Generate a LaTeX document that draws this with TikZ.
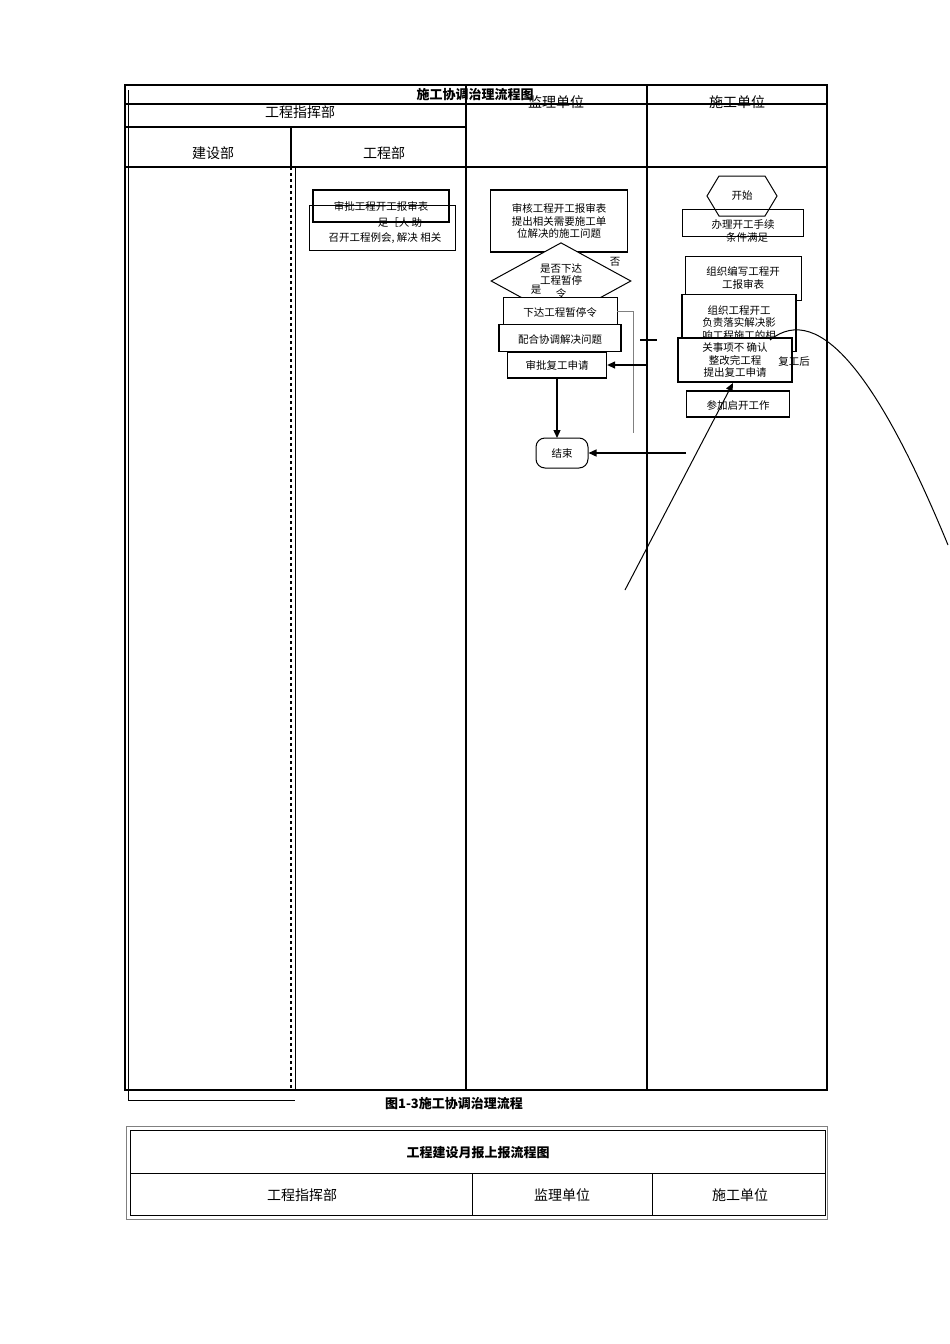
\documentclass[tikz,border=0pt]{standalone}
\usepackage{fontspec}
\setmainfont{Noto Sans CJK SC}
\usetikzlibrary{shapes.geometric,arrows.meta}
\begin{document}
\begin{tikzpicture}[x=1pt,y=-1pt,line width=1.3pt,
 box/.style={draw,line width=1.3pt,minimum width=#1,inner sep=1pt,font=\fontsize{10.5}{12.5}\selectfont,align=center},
 hd/.style={font=\fontsize{14}{16}\selectfont},
 lab/.style={font=\fontsize{10.5}{12.5}\selectfont},
 arr/.style={-{Triangle[length=8pt,width=7pt]},line width=1.3pt}]
\useasboundingbox (0,0) rectangle (950,1344);
% frame
\draw[line width=2pt] (125,85) rectangle (827,1090);
\draw[line width=0.6pt] (128,90) -- (128,1100) -- (295,1100);
\draw (125,104) -- (827,104);
\draw (125,127) -- (466,127);
\draw[line width=2pt] (125,167) -- (827,167);
\draw[line width=2pt] (466,85) -- (466,1090);
\draw[line width=2pt] (647,85) -- (647,1090);
\draw (291,127) -- (291,167);
\draw[dashed,line width=2pt] (291,167) -- (291,1090);
\draw[line width=0.6pt] (295,167) -- (295,1090);
\node[font=\bfseries\fontsize{13}{15}\selectfont] (t) at (475,95) {施工协调治理流程图};
\node[hd] (h1) at (300,112) {工程指挥部};
\node[hd] (h2) at (556,102) {监理单位};
\node[hd] (h3) at (737,102) {施工单位};
\node[hd] (h4) at (213,153) {建设部};
\node[hd] (h5) at (384,153) {工程部};
% column 工程部
\node[box=136pt,minimum height=32pt] (a1) at (381,206) {审批工程开工报审表};
\draw[line width=0.8pt] (309,205) rectangle (455,250);
\node[lab] (a2) at (400,223) {足［人 助};
\node[lab] (a3) at (385,238) {召开工程例会, 解决 相关};
% 监理
\node[box=137pt,minimum height=62pt] (b1) at (559,221) {审核工程开工报审表\\提出相关需要施工单\\位解决的施工问题};
\node[diamond,draw,line width=1pt,minimum width=140pt,minimum height=70pt,inner sep=0pt,lab,align=center,fill=white] (d) at (561,281) {是否下达\\工程暂停\\令};
\node[lab] (no) at (615,262) {否};
\node[lab] (yes) at (536,290) {是};
\node[box=114pt,minimum height=28pt,fill=white,line width=0.8pt] (b2) at (560,311) {\\下达工程暂停令};
\node[box=122pt,minimum height=27pt,fill=white] (b3) at (560,338) {\\配合协调解决问题};
\node[box=99pt,minimum height=26pt,fill=white] (b4) at (557,365) {审批复工申请};
\node[draw,line width=1pt,rounded corners=9pt,minimum width=52pt,minimum height=30pt,lab] (e) at (562,453) {结束};
\coordinate (c1) at (633,311);
\coordinate (c2) at (633,433);
\draw[gray,line width=1pt] (b2.east) -- (c1) -- (c2);
\draw (640,340) -- (657,340);
\coordinate (e1) at (557,438);
\draw[arr] (b4.south) -- (e1);
% 施工
\draw[line width=1pt] (707,196) -- (719,176) -- (765,176) -- (777,196) -- (765,216) -- (719,216) -- cycle;
\node[lab] (s) at (742,196) {开始};
\node[box=121pt,minimum height=27pt,line width=1pt] (p1) at (743,223) {\\办理开工手续};
\node[lab] (p1b) at (747,237) {条件满足};
\node[box=116pt,minimum height=44pt,line width=1pt] (p2) at (743,278) {组织编写工程开\\工报审表};
\node[box=114pt,minimum height=57pt,fill=white] (p3) at (739,323) {组织工程开工\\负责落实解决影\\响工程施工的相};
\node[box=114pt,minimum height=44pt,fill=white] (p4) at (735,360) {关事项不 确认\\整改完工程\\提出复工申请};
\node[lab] (p4b) at (794,362) {复工后};
\node[box=103pt,minimum height=26pt] (p5) at (738,404) {\\参加启开工作};
\coordinate (r1) at (647,365);
\coordinate (r2) at (686,453);
\draw[arr] (r1) -- (b4.east);
\draw[arr] (r2) -- (e.east);
\coordinate (q1) at (625,590);
\coordinate (q0) at (733,383);
\draw[-{Triangle[length=8pt,width=7pt]},line width=1pt] (q1) -- (q0);
\coordinate (q2) at (770,340);
\coordinate (q3) at (948,545);
\draw[line width=1pt] (q2) .. controls (820,300) and (880,380) .. (q3);
% caption
\node[font=\bfseries\fontsize{13}{15}\selectfont] (cap) at (454,1104) {图1-3施工协调治理流程};
% second table
\draw[gray,line width=0.6pt] (126,1126) rectangle (827,1219);
\draw[line width=0.8pt] (130,1130) rectangle (825,1215);
\draw[line width=0.8pt] (130,1173) -- (825,1173);
\draw[line width=0.8pt] (472,1173) -- (472,1215);
\draw[line width=0.8pt] (652,1173) -- (652,1215);
\node[font=\bfseries\fontsize{13}{15}\selectfont] (t2) at (478,1153) {工程建设月报上报流程图};
\node[hd] (g1) at (302,1195) {工程指挥部};
\node[hd] (g2) at (562,1195) {监理单位};
\node[hd] (g3) at (740,1195) {施工单位};
\end{tikzpicture}
\end{document}
